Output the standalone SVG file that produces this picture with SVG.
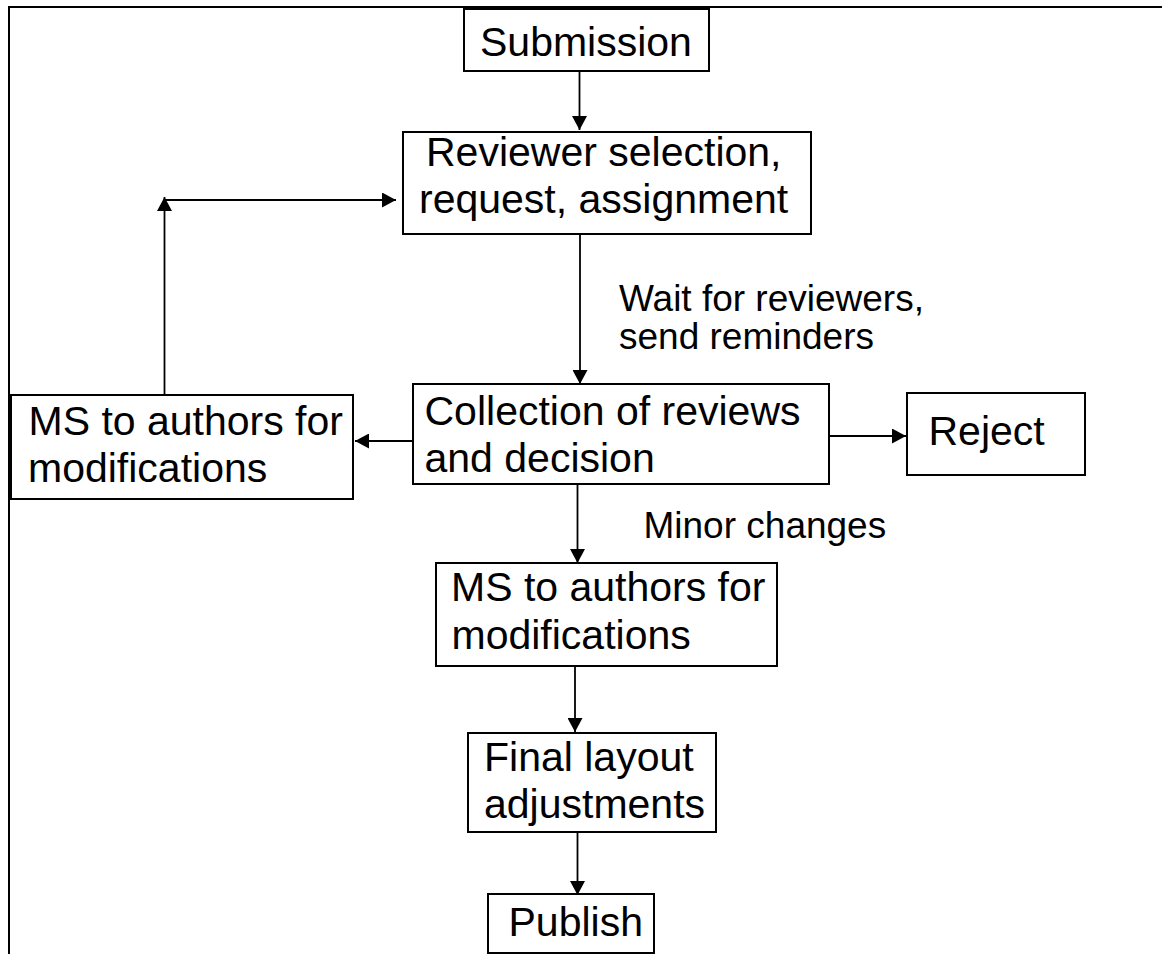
<svg xmlns="http://www.w3.org/2000/svg" width="1162" height="954" viewBox="0 0 1162 954">
<style>
.box{fill:#fff;stroke:#000;stroke-width:2}
.t{font-family:"Liberation Sans",Arial,sans-serif;font-size:41px;fill:#000}
.l{font-family:"Liberation Sans",Arial,sans-serif;font-size:37px;fill:#000}
.c{stroke:#000;stroke-width:1.8;fill:none}
.frame{stroke:#000;stroke-width:2;fill:none}
</style>
<defs>
<marker id="ah" markerUnits="userSpaceOnUse" markerWidth="15" markerHeight="15" refX="14" refY="7.5" orient="auto">
<path d="M0,0 L14,7.5 L0,15 z" fill="#000"/>
</marker>
</defs>
<rect width="1162" height="954" fill="#fff"/>
<g id="frame">
<path class="frame" d="M9,954 L9,7 L1162,7"/>
</g>
<g id="connectors">
<line class="c" x1="579.5" y1="72" x2="579.5" y2="130" marker-end="url(#ah)"/>
<line class="c" x1="580" y1="234" x2="580" y2="384" marker-end="url(#ah)"/>
<line class="c" x1="413" y1="441" x2="355" y2="441" marker-end="url(#ah)"/>
<line class="c" x1="164.5" y1="395" x2="164.5" y2="197" marker-end="url(#ah)"/>
<line class="c" x1="164.5" y1="200" x2="396" y2="200" marker-end="url(#ah)"/>
<line class="c" x1="829" y1="436" x2="906" y2="436" marker-end="url(#ah)"/>
<line class="c" x1="577.5" y1="484" x2="577.5" y2="563" marker-end="url(#ah)"/>
<line class="c" x1="575" y1="666" x2="575" y2="732" marker-end="url(#ah)"/>
<line class="c" x1="577.5" y1="832" x2="577.5" y2="895" marker-end="url(#ah)"/>
<text class="l" x="619" y="311">Wait for reviewers,</text>
<text class="l" x="619" y="349">send reminders</text>
<text class="l" x="643.5" y="538">Minor changes</text>
</g>
<g id="submission">
<rect class="box" x="464" y="9" width="245" height="62"/>
<text class="t" x="480" y="56">Submission</text>
</g>
<g id="reviewer">
<rect class="box" x="403" y="132" width="408" height="102"/>
<text class="t" x="426" y="166">Reviewer selection,</text>
<text class="t" x="419" y="213">request, assignment</text>
</g>
<g id="collection">
<rect class="box" x="413" y="384" width="416" height="100"/>
<text class="t" x="424.5" y="425">Collection of reviews</text>
<text class="t" x="424.5" y="472">and decision</text>
</g>
<g id="ms-major">
<rect class="box" x="11" y="395" width="342" height="104"/>
<text class="t" x="28.5" y="435">MS to authors for</text>
<text class="t" x="28" y="482">modifications</text>
</g>
<g id="reject">
<rect class="box" x="907" y="393" width="178" height="82"/>
<text class="t" x="928.5" y="445">Reject</text>
</g>
<g id="ms-minor">
<rect class="box" x="436" y="563" width="341" height="103"/>
<text class="t" x="451" y="601">MS to authors for</text>
<text class="t" x="451.5" y="649">modifications</text>
</g>
<g id="final">
<rect class="box" x="468" y="733" width="248" height="99"/>
<text class="t" x="484" y="771">Final layout</text>
<text class="t" x="484" y="818">adjustments</text>
</g>
<g id="publish">
<rect class="box" x="488" y="894" width="166" height="59"/>
<text class="t" x="508.5" y="936">Publish</text>
</g>
</svg>
